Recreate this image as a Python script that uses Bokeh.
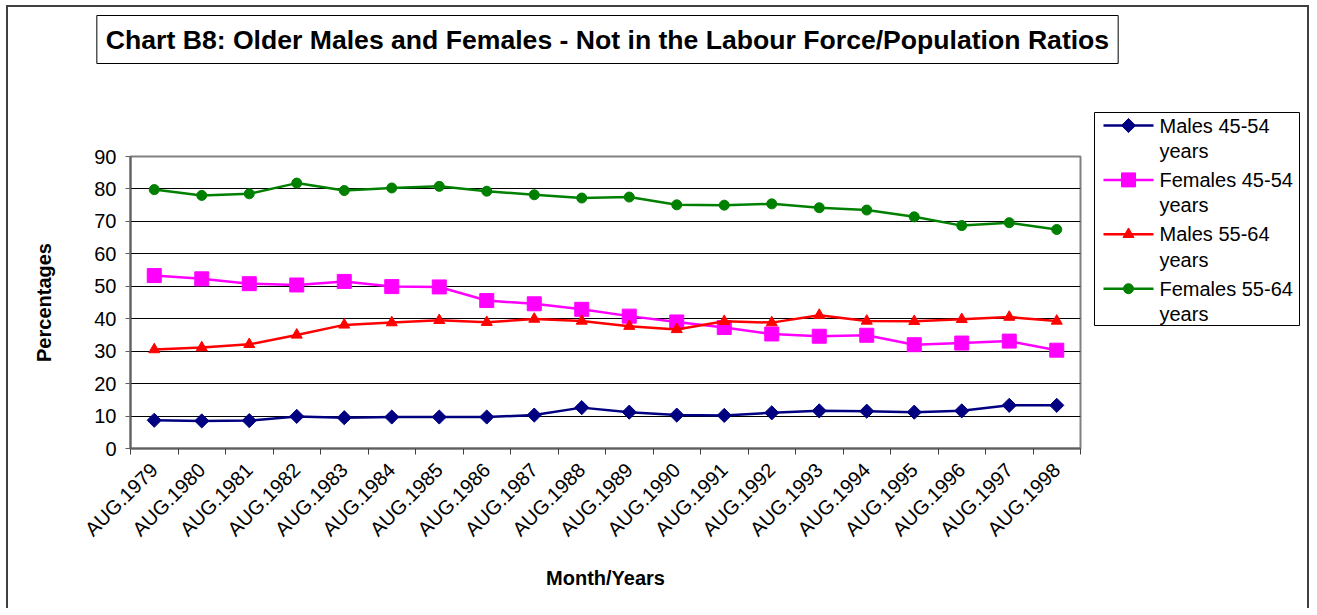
import numpy as np
from bokeh.plotting import figure
from bokeh.layouts import column, row
from bokeh.models import FixedTicker, Range1d, Label
from bokeh.core.properties import value
from bokeh.embed import file_html
from bokeh.resources import INLINE

categories = ["AUG.1979", "AUG.1980", "AUG.1981", "AUG.1982", "AUG.1983",
              "AUG.1984", "AUG.1985", "AUG.1986", "AUG.1987", "AUG.1988",
              "AUG.1989", "AUG.1990", "AUG.1991", "AUG.1992", "AUG.1993",
              "AUG.1994", "AUG.1995", "AUG.1996", "AUG.1997", "AUG.1998"]
males_45_54 = [8.7, 8.5, 8.6, 9.9, 9.5, 9.7, 9.7, 9.7, 10.3, 12.6,
               11.2, 10.3, 10.2, 11.0, 11.6, 11.5, 11.2, 11.6, 13.3, 13.3]
females_45_54 = [53.3, 52.3, 50.8, 50.4, 51.5, 49.9, 49.8, 45.6, 44.6, 42.9,
                 40.8, 39.0, 37.3, 35.3, 34.6, 34.9, 32.0, 32.5, 33.1, 30.3]
males_55_64 = [30.5, 31.1, 32.1, 35.0, 38.1, 38.8, 39.5, 38.9, 39.9, 39.3,
               37.7, 36.7, 39.2, 38.8, 41.1, 39.3, 39.2, 39.8, 40.5, 39.3]
females_55_64 = [79.8, 78.0, 78.5, 81.8, 79.5, 80.3, 80.8, 79.3, 78.2, 77.2,
                 77.5, 75.1, 75.0, 75.4, 74.2, 73.5, 71.4, 68.7, 69.6, 67.5]
series_names = ["Males 45-54", "Females 45-54", "Males 55-64", "Females 55-64"]
legend_second_line = "years"
y_ticks = list(range(0, 100, 10))
title_text = "Chart B8: Older Males and Females - Not in the Labour Force/Population Ratios"

FONT = "Liberation Sans"
n = len(categories)
xs = (np.arange(n) + 0.5).tolist()

colors = ["#000080", "#FF00FF", "#FF0000", "#008000"]
markers = ["square", "square", "triangle", "circle"]
sizes = [10, 14, 11, 10]
angles = [np.pi / 4, 0, 0, 0]

# ---- title strip ----
TOP_W, TOP_H = 1299, 93
top = figure(width=TOP_W, height=TOP_H, output_backend="svg", toolbar_location=None,
             title=None, x_range=Range1d(0, TOP_W), y_range=Range1d(0, TOP_H),
             x_axis_location=None, y_axis_location=None, min_border=0)
top.outline_line_color = None
top.xgrid.visible = False
top.ygrid.visible = False
top.add_layout(Label(x=599, y=61, text=title_text, text_align="center", text_baseline="middle",
                     text_font=FONT, text_font_size="26.6px", text_font_style="bold",
                     text_color="black", border_line_color="black", border_line_width=1,
                     background_fill_color="white", padding=9))

# ---- main chart ----
p = figure(width=1079, height=508, output_backend="svg", toolbar_location=None, title=None,
           x_range=Range1d(0, n), y_range=Range1d(0, 90),
           min_border_left=122, min_border_right=7, min_border_top=56, min_border_bottom=160)

p.outline_line_color = "#808080"
p.outline_line_width = 2
p.background_fill_color = "white"

p.xgrid.grid_line_color = None
p.ygrid.grid_line_color = "black"
p.ygrid.grid_line_width = 1
p.yaxis.ticker = FixedTicker(ticks=y_ticks)
p.ygrid.ticker = FixedTicker(ticks=y_ticks)

p.xaxis.ticker = FixedTicker(ticks=xs, minor_ticks=list(range(0, n + 1)))
p.xaxis.major_label_overrides = {x: c for x, c in zip(xs, categories)}
p.xaxis.major_tick_line_color = None
p.xaxis.minor_tick_line_color = "#404040"
p.xaxis.minor_tick_out = 6
p.xaxis.minor_tick_in = 0
p.xaxis.major_label_orientation = np.pi / 4
p.xaxis.major_label_standoff = 12
p.xaxis.axis_label = "Month/Years"
p.xaxis.axis_label_standoff = 16

p.yaxis.axis_label = "Percentages"
p.yaxis.major_tick_out = 5
p.yaxis.major_tick_in = 0
p.yaxis.minor_tick_line_color = None
p.yaxis.major_label_standoff = 9
p.yaxis.axis_label_standoff = 36

for ax in (p.xaxis, p.yaxis):
    ax.axis_line_color = "#606060"
    ax.axis_line_width = 2
    ax.major_label_text_font = FONT
    ax.major_label_text_font_size = "20px"
    ax.major_label_text_color = "black"
    ax.axis_label_text_font = FONT
    ax.axis_label_text_font_size = "20px"
    ax.axis_label_text_font_style = "bold"
    ax.axis_label_text_color = "black"
p.yaxis.major_tick_line_color = "#606060"

series = [males_45_54, females_45_54, males_55_64, females_55_64]
for vals, col, mk, sz, ang in zip(series, colors, markers, sizes, angles):
    p.line(xs, vals, line_color=col, line_width=2.5)
    p.scatter(xs, vals, marker=mk, size=sz, angle=ang, fill_color=col, line_color=col)

# ---- legend panel (pixel-based coordinates) ----
LG_W, LG_H = 220, 508
lg = figure(width=LG_W, height=LG_H, output_backend="svg", toolbar_location=None, title=None,
            x_axis_location=None, y_axis_location=None, min_border=0,
            x_range=Range1d(0, LG_W), y_range=Range1d(0, LG_H))
lg.outline_line_color = None
lg.xgrid.visible = False
lg.ygrid.visible = False

box_left, box_right, box_top, box_bottom = 7, 212, 496, 283
lg.quad(left=[box_left], right=[box_right], top=[box_top], bottom=[box_bottom],
        fill_color="white", line_color="black", line_width=1)

row_step = 54.4
first_row = box_top - 13
ys_name = [first_row - i * row_step for i in range(len(series_names))]
ys_years = [y - 25.5 for y in ys_name]
sw_x0, sw_x1 = box_left + 9, box_left + 59
for y, col, mk, sz, ang in zip(ys_name, colors, markers, sizes, angles):
    lg.segment(x0=[sw_x0], y0=[y], x1=[sw_x1], y1=[y], line_color=col, line_width=2.5)
    lg.scatter([(sw_x0 + sw_x1) / 2], [y], marker=mk, size=sz, angle=ang,
               fill_color=col, line_color=col)
text_x = box_left + 65
lg.text(x=[text_x] * len(series_names), y=ys_name, text=series_names,
        text_font=value(FONT), text_font_size="20px", text_color="black",
        text_baseline="middle", text_align="left")
lg.text(x=[text_x] * len(series_names), y=ys_years, text=[legend_second_line] * len(series_names),
        text_font=value(FONT), text_font_size="20px", text_color="black",
        text_baseline="middle", text_align="left")

layout = column(top, row(p, column(lg, spacing=0), spacing=0), spacing=0)
layout.styles = {"border-top": "2px solid #404040", "border-left": "2px solid #404040",
                 "border-right": "2px solid #404040", "margin-left": "6px", "margin-top": "5px"}

open("out.html", "w").write(file_html(layout, INLINE))
